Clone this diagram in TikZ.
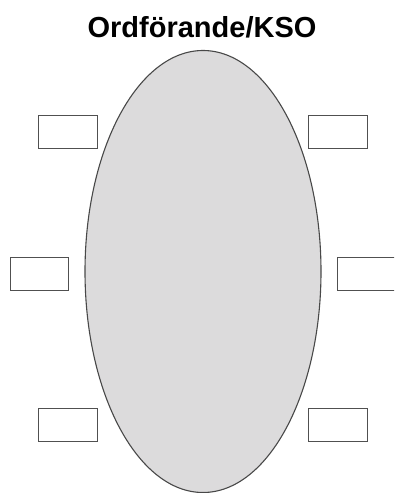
\documentclass[tikz,border=0pt]{standalone}
\usepackage{fontspec}
\setmainfont{Liberation Sans}
\usetikzlibrary{shapes.geometric}
\definecolor{tablefill}{HTML}{DCDBDC}
\definecolor{edgegray}{HTML}{505050}
\tikzset{
  seat/.style={draw=edgegray, line width=1.3pt, fill=white, minimum width=59pt, minimum height=33pt, inner sep=0pt, anchor=north west},
  table/.style={ellipse, draw=edgegray!90!black, line width=1.1pt, fill=tablefill, minimum width=236pt, minimum height=442pt, inner sep=0pt}
}
\begin{document}
\begin{tikzpicture}[x=1pt,y=-1pt]
\useasboundingbox (0,0) rectangle (394,493);
\clip (0,0) rectangle (394,493);
\node[anchor=base, font=\bfseries\fontsize{29}{32}\selectfont] (title) at (202,37) {Ordförande/KSO};
\node[table] (bord) at (203,271.5) {};
\node[seat] (s1) at (38,115) {};
\node[seat] (s2) at (308,115) {};
\node[seat, minimum width=58pt] (s3) at (10,257) {};
\node[seat, minimum width=70pt] (s4) at (337,257) {};
\node[seat] (s5) at (38,408) {};
\node[seat] (s6) at (308,408) {};
\end{tikzpicture}
\end{document}
